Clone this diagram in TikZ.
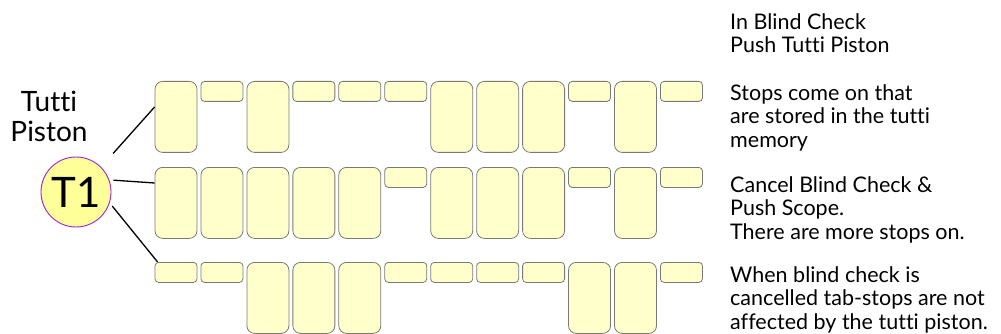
\documentclass[tikz,border=0pt]{standalone}
\usepackage{fontspec}
\setmainfont{Lato}[Ligatures=NoCommon]
\definecolor{tabfill}{HTML}{FFFFCC}
\definecolor{tabedge}{HTML}{7A7A74}
\definecolor{pistonfill}{HTML}{FFFF99}
\definecolor{pistonedge}{HTML}{A020E0}

\begin{document}
\begin{tikzpicture}[x=1pt, y=-1pt,
  tab/.style={draw=tabedge, line width=0.8pt, fill=tabfill, anchor=north,
    inner sep=0pt, minimum width=42pt, minimum height=#1pt,
    rounded corners={(2+0.08*#1)*1pt}},
  piston/.style={circle, draw=pistonedge, line width=0.9pt, fill=pistonfill,
    inner sep=0pt, minimum size=70pt, font=\fontsize{42}{42}\selectfont},
  note/.style={anchor=base west, align=left, inner sep=0pt,
    font=\fontsize{21.5}{23.5}\selectfont},
  wire/.style={line width=1.3pt, shorten <=4pt}
]
  \useasboundingbox (0,0) rectangle (1001,334);

  % the piston
  \node[anchor=base, align=center, inner sep=0pt,
    font=\fontsize{28}{30}\selectfont] (caption) at (49,142) {Tutti\\Piston};
  \node[piston] (T1) at (76,192) {T1};

  % three rows of tab-stops: 71 = on (down), 20 = off (up)
  \foreach \r/\y/\pat in {
      1/81/{71,20,71,20,20,20,71,71,71,20,71,20},
      2/167/{71,71,71,71,71,20,71,71,71,20,71,20},
      3/262/{20,20,71,71,71,20,20,20,20,71,71,20}}
    \foreach \h [count=\c from 0] in \pat
      \node[tab=\h] (r\r c\c) at (176+45.95*\c,\y) {};

  \draw[wire, shorten <=18pt] (T1.45) -- ([yshift=-26pt]r1c0.north west);
  \draw[wire] (T1.20) -- ([yshift=-16pt]r2c0.north west);
  \draw[wire] (T1.-18) -- ([xshift=3pt]r3c0.north west);

  % notes on the right (anchored at the last line)
  \node[note] (step0) at (730,53) {In Blind Check\\Push Tutti Piston};
  \node[note] (step1) at (730,147)
    {Stops come on that\\are stored in the tutti\\memory};
  \node[note] (step2) at (730,239)
    {Cancel Blind Check \&\\Push Scope.\\There are more stops on.};
  \node[note] (step3) at (730,329)
    {When blind check is\\cancelled tab-stops are not\\affected by the tutti piston.};
\end{tikzpicture}
\end{document}
